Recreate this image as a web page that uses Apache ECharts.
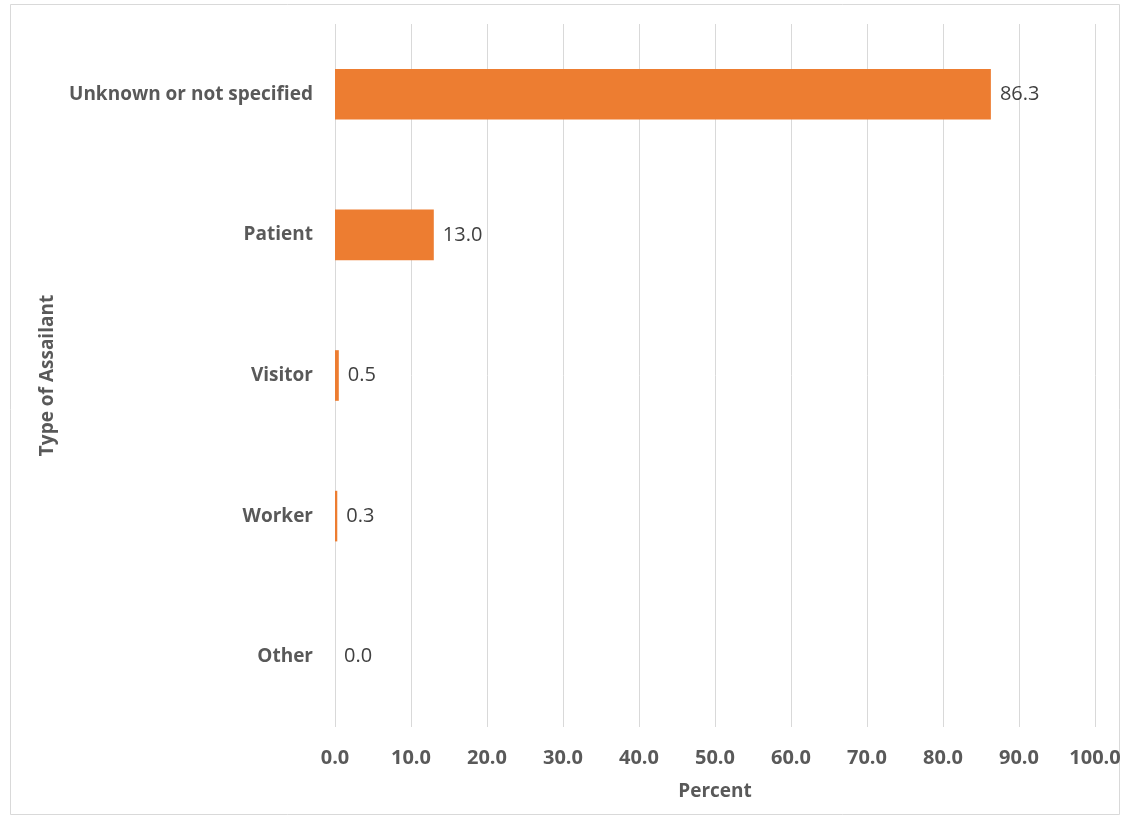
<!DOCTYPE html>
<html>
<head>
<meta charset="utf-8">
<style>
  html, body { margin: 0; padding: 0; background: #ffffff; }
  #chart { width: 1124px; height: 819px; }
</style>
<script src="https://cdn.jsdelivr.net/npm/echarts@6/dist/echarts.min.js"></script>
</head>
<body>
<div id="chart"></div>
<script>
// Share of incidents by type of assailant (percent)
const categories = ['Unknown or not specified', 'Patient', 'Visitor', 'Worker', 'Other'];
const percentValues = [86.3, 13.0, 0.5, 0.3, 0.0];
const axisTitleX = 'Percent';
const axisTitleY = 'Type of Assailant';

const FONT = '"Open Sans", "Noto Sans", sans-serif';
const TEXT_GRAY = '#595959';

const chart = echarts.init(document.getElementById('chart'), null, { renderer: 'canvas' });

chart.setOption({
  backgroundColor: '#ffffff',
  animation: false,
  graphic: [{
    type: 'rect',
    shape: { x: 10.5, y: 4.5, width: 1109, height: 810 },
    style: { fill: 'none', stroke: '#d9d9d9', lineWidth: 1 },
    silent: true
  }],
  grid: { left: 335, right: 29, top: 24, bottom: 92, containLabel: false },
  xAxis: {
    type: 'value',
    min: 0,
    max: 100,
    interval: 10,
    name: axisTitleX,
    nameLocation: 'middle',
    nameGap: 55,
    nameTextStyle: { fontFamily: FONT, fontSize: 19, fontWeight: 'bold', color: TEXT_GRAY },
    axisLine: { show: false },
    axisTick: { show: false },
    axisLabel: {
      margin: 21,
      fontFamily: FONT, fontSize: 20, fontWeight: 'bold', color: TEXT_GRAY,
      formatter: v => v.toFixed(1)
    },
    splitLine: { show: true, lineStyle: { color: '#d9d9d9', width: 1 } }
  },
  yAxis: {
    type: 'category',
    data: categories,
    inverse: true,
    name: axisTitleY,
    nameLocation: 'middle',
    nameGap: 278,
    nameRotate: 90,
    nameTextStyle: { fontFamily: FONT, fontSize: 19, fontWeight: 'bold', color: TEXT_GRAY },
    axisLine: { show: false },
    axisTick: { show: false },
    axisLabel: {
      margin: 22,
      fontFamily: FONT, fontSize: 19, fontWeight: 'bold', color: TEXT_GRAY
    },
    splitLine: { show: false }
  },
  series: [{
    type: 'bar',
    data: percentValues,
    barWidth: '36%',
    itemStyle: { color: '#ed7d31' },
    label: {
      show: true,
      position: 'right',
      distance: 9,
      fontFamily: FONT, fontSize: 20, color: '#404040',
      formatter: p => p.value.toFixed(1)
    }
  }]
});
</script>
</body>
</html>
